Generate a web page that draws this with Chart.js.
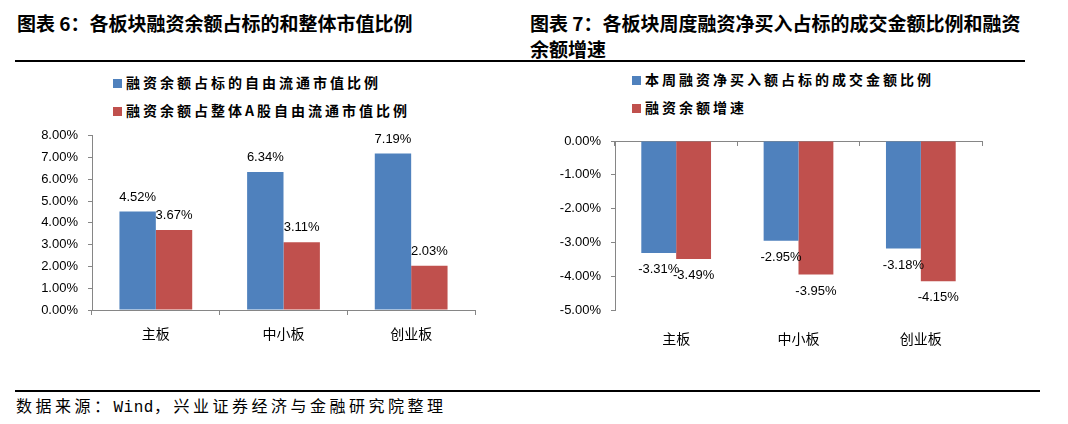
<!DOCTYPE html>
<html lang="zh-CN">
<head>
<meta charset="utf-8">
<script src="https://cdn.jsdelivr.net/npm/chart.js@4/dist/chart.umd.min.js"></script>
<style>
    body {
        margin: 0;
        width: 1068px;
        height: 424px;
        background: #fff;
        position: relative;
        overflow: hidden;
        font-family: "Noto Sans CJK SC", sans-serif;
    }
    .titre {
        position: absolute;
        top: 10px;
        font-size: 19px;
        font-weight: bold;
        line-height: 26px;
        color: #000;
    }
    .ligne {
        position: absolute;
        height: 0;
        border-top: 2px solid #000;
    }
    .legende {
        position: absolute;
        font-size: 14px;
        font-weight: bold;
        letter-spacing: 3px;
        line-height: 28px;
        white-space: nowrap;
    }
    .legende span.carre {
        display: inline-block;
        width: 9px;
        height: 9px;
        margin-right: 4px;
        vertical-align: 0px;
    }
    .zone {
        position: absolute;
        top: 118px;
        height: 232px;
    }
    #source {
        position: absolute;
        left: 16px;
        top: 395px;
        font-size: 16px;
        line-height: 20px;
        letter-spacing: 3.5px;
        white-space: nowrap;
    }
    #source .mono {
        font-family: "Liberation Mono", monospace;
        letter-spacing: 0.5px;
    }
</style>
</head>
<body>
<div class="titre" style="left:17px;">图表 6：各板块融资余额占标的和整体市值比例</div>
<div class="titre" style="left:530px; width:497px;">图表 7：各板块周度融资净买入占标的成交金额比例和融资余额增速</div>
<div class="ligne" style="left:15px; width:1010px; top:60px;"></div>

<div class="legende" id="legende-gauche" style="left:113px; top:68px;"></div>
<div class="legende" id="legende-droite" style="left:632px; top:65px;"></div>

<div class="zone" style="left:0; width:540px;"><canvas id="graphique-gauche"></canvas></div>
<div class="zone" style="left:530px; width:538px;"><canvas id="graphique-droite"></canvas></div>

<div class="ligne" style="left:15px; width:1025px; top:390px;"></div>
<div id="source">数据来源：<span class="mono">Wind</span>，兴业证券经济与金融研究院整理</div>

<script>
"use strict";

// données (en %)
const categories = ['主板', '中小板', '创业板'];

const seriesGauche = ['融资余额占标的自由流通市值比例', '融资余额占整体A股自由流通市值比例'];
const valeursGaucheBleu = [4.52, 6.34, 7.19];
const valeursGaucheRouge = [3.67, 3.11, 2.03];

const seriesDroite = ['本周融资净买入额占标的成交金额比例', '融资余额增速'];
const valeursDroiteBleu = [-3.31, -2.95, -3.18];
const valeursDroiteRouge = [-3.49, -3.95, -4.15];

const couleurs = ['#4F81BD', '#C0504D'];
const couleurAxe = '#868686';

/**
 * Affiche la valeur au bout de chaque barre
 */
const etiquettesValeurs = {
    id: 'etiquettesValeurs',
    afterDatasetsDraw(chart, args, options) {
        const {ctx} = chart;
        ctx.save();
        ctx.font = "13px 'Liberation Sans', Arial, sans-serif";
        ctx.fillStyle = '#000';
        ctx.textAlign = 'center';
        ctx.textBaseline = 'middle';
        chart.data.datasets.forEach((dataset, i) => {
            chart.getDatasetMeta(i).data.forEach((barre, j) => {
                const v = dataset.data[j];
                const y = v >= 0 ? barre.y - options.decalageHaut : barre.y + options.decalageBas;
                ctx.fillText(v.toFixed(2) + '%', barre.x, y);
            });
        });
        ctx.restore();
    }
};

function remplirLegende(id, noms) {
    const div = document.getElementById(id);
    noms.forEach((nom, i) => {
        const ligne = document.createElement('div');
        const carre = document.createElement('span');
        carre.className = 'carre';
        carre.style.background = couleurs[i];
        ligne.appendChild(carre);
        ligne.appendChild(document.createTextNode(nom));
        div.appendChild(ligne);
    });
}

function creerGraphique(idCanvas, noms, bleu, rouge, options) {
    const ctx = document.getElementById(idCanvas);

    const scales = {
        x: {
            position: 'bottom',
            afterFit: (scale) => { scale.height = 40; },
            grid: {
                display: options.axeXEnBas,
                drawOnChartArea: false,
                color: couleurAxe,
                tickLength: 5
            },
            border: {display: options.axeXEnBas, color: couleurAxe},
            ticks: {
                color: '#000',
                padding: options.axeXEnBas ? 10 : 15,
                font: {family: "'Noto Sans CJK SC'", size: 14}
            }
        },
        y: {
            min: options.min,
            max: options.max,
            afterFit: (scale) => { scale.width = options.largeurAxeY; },
            grid: {
                drawOnChartArea: false,
                color: couleurAxe,
                tickLength: 4
            },
            border: {color: couleurAxe},
            ticks: {
                stepSize: 1,
                color: '#000',
                padding: 10,
                font: {family: "'Liberation Sans', Arial, sans-serif", size: 13},
                callback: (value) => value.toFixed(2) + '%'
            }
        }
    };

    if (!options.axeXEnBas) {
        // axe des catégories au niveau de 0, en haut
        scales.xHaut = {
            type: 'category',
            position: 'top',
            afterFit: (scale) => { scale.height = 0; },
            grid: {
                drawOnChartArea: false,
                color: couleurAxe,
                tickLength: -5
            },
            border: {color: couleurAxe},
            ticks: {display: false}
        };
    }

    const config = {
        type: 'bar',
        data: {
            labels: categories,
            datasets: [{
                label: noms[0],
                data: bleu,
                backgroundColor: couleurs[0],
                categoryPercentage: 0.57,
                barPercentage: 1.0
            }, {
                label: noms[1],
                data: rouge,
                backgroundColor: couleurs[1],
                categoryPercentage: 0.57,
                barPercentage: 1.0
            }]
        },
        options: {
            responsive: true,
            maintainAspectRatio: false,
            animation: false,
            layout: {
                padding: options.padding
            },
            plugins: {
                legend: {display: false},
                tooltip: {enabled: false},
                etiquettesValeurs: {
                    decalageHaut: 14.5,
                    decalageBas: 16.5
                }
            },
            scales: scales
        },
        plugins: [etiquettesValeurs]
    };

    return new Chart(ctx, config);
}

remplirLegende('legende-gauche', seriesGauche);
remplirLegende('legende-droite', seriesDroite);

creerGraphique('graphique-gauche', seriesGauche, valeursGaucheBleu, valeursGaucheRouge, {
    min: 0,
    max: 8,
    largeurAxeY: 92,
    axeXEnBas: true,
    padding: {top: 10, right: 65, left: 0, bottom: 0}
});

creerGraphique('graphique-droite', seriesDroite, valeursDroiteBleu, valeursDroiteRouge, {
    min: -5,
    max: 0,
    largeurAxeY: 85,
    axeXEnBas: false,
    padding: {top: 23, right: 86, left: 0, bottom: 0}
});
</script>
</body>
</html>
